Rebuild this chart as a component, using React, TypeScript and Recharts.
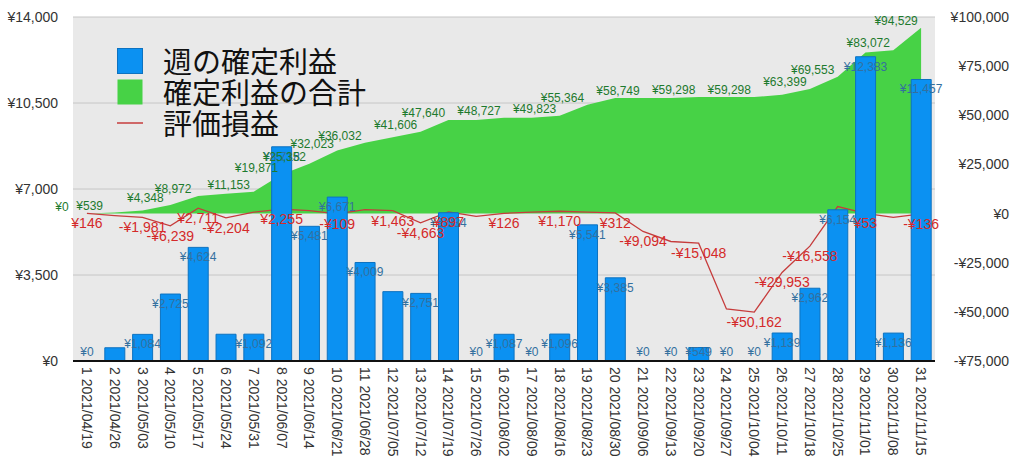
import {
  ComposedChart,
  Bar,
  Area,
  Line,
  XAxis,
  YAxis,
  CartesianGrid,
  Legend,
  LabelList,
} from "recharts";

const weekLabels = [
  "1 2021/04/19", "2 2021/04/26", "3 2021/05/03", "4 2021/05/10", "5 2021/05/17",
  "6 2021/05/24", "7 2021/05/31", "8 2021/06/07", "9 2021/06/14", "10 2021/06/21",
  "11 2021/06/28", "12 2021/07/05", "13 2021/07/12", "14 2021/07/19", "15 2021/07/26",
  "16 2021/08/02", "17 2021/08/09", "18 2021/08/16", "19 2021/08/23", "20 2021/08/30",
  "21 2021/09/06", "22 2021/09/13", "23 2021/09/20", "24 2021/09/27", "25 2021/10/04",
  "26 2021/10/11", "27 2021/10/18", "28 2021/10/25", "29 2021/11/01", "30 2021/11/08",
  "31 2021/11/15",
];

// 週の確定利益
const weeklyProfit = [
  0, 539, 1084, 2725, 4624, 1089, 1092, 8718, 5481, 6671, 4009, 2823, 2751, 6034, 0,
  1087, 0, 1096, 5541, 3385, 0, 0, 549, 0, 0, 1139, 2962, 6154, 12383, 1136, 11457,
];

// 確定利益の合計
const totalProfit = [
  0, 539, 1623, 4348, 8972, 10061, 11153, 19871, 25352, 32023, 36032, 38855, 41606,
  47640, 47640, 48727, 48727, 49823, 55364, 58749, 58749, 58749, 59298, 59298, 59298,
  60437, 63399, 69553, 81936, 83072, 94529,
];

// 評価損益
const unrealized = [
  146, -1000, -1981, -6239, 2711, -2204, 700, 2255, 1500, -109, 2000, 1463, -4663, 897,
  -1400, 126, 700, 1170, 700, 312, -9094, -14200, -15048, -48500, -50162, -29953,
  -16558, 3560, 53, -1900, -136,
];

const leftTicks = [0, 3500, 7000, 10500, 14000];
const rightTicks = [-75000, -50000, -25000, 0, 25000, 50000, 75000, 100000];

// weeks whose value label is printed in the reference
const blueLabelHidden = [1, 5, 11];
const greenLabelShown = [0, 1, 3, 4, 6, 7, 8, 9, 10, 12, 13, 15, 17, 18, 20, 22, 24, 26, 27, 29, 30];
const redLabelShown = [0, 2, 3, 4, 5, 7, 9, 11, 12, 13, 15, 17, 19, 20, 22, 24, 25, 26, 28, 30];

const legendOrder = ["週の確定利益", "確定利益の合計", "評価損益"];

const BLUE = "#0b91f2";
const GREEN = "#47d246";
const RED = "#c63c3c";
const NUM_FONT = "'Liberation Sans', Arial, sans-serif";
const CHART_H = 472;
const TOP = 17;
const X_AXIS_H = 111;

const rows = weekLabels.map((label, i) => ({
  label,
  weekly: weeklyProfit[i],
  total: totalProfit[i],
  unrealized: unrealized[i],
}));

const yen = (v: number) => (v < 0 ? "-¥" : "¥") + Math.abs(v).toLocaleString("en-US");

function pos(props: any) {
  const vb = props.viewBox || {};
  return { x: props.x ?? vb.x, y: props.y ?? vb.y };
}

function XTick({ x, y, payload }: any) {
  return (
    <text
      x={x}
      y={y}
      transform={`rotate(90 ${x} ${y})`}
      textAnchor="start"
      dominantBaseline="central"
      fontSize={14}
      fontFamily={NUM_FONT}
      fill="#333"
    >
      {payload.value}
    </text>
  );
}

function RightTick({ x, y, payload }: any) {
  return (
    <text
      x={x + 74}
      y={y}
      textAnchor="end"
      dominantBaseline="central"
      fontSize={14}
      fontFamily={NUM_FONT}
      fill="#333"
    >
      {yen(payload.value)}
    </text>
  );
}

// label for the weekly bars, drawn from an invisible line through the bar tops
function BarLabel(props: any) {
  if (blueLabelHidden.includes(props.index)) return null;
  const { x, y } = pos(props);
  const pvb = props.parentViewBox;
  const bottom = pvb && pvb.height ? pvb.y + pvb.height : CHART_H - X_AXIS_H;
  const cy = Math.min(y + 10, bottom - 9);
  return (
    <text
      x={x}
      y={cy}
      textAnchor="middle"
      dominantBaseline="central"
      fontSize={12}
      fontFamily={NUM_FONT}
      fill="#33709f"
    >
      {yen(props.value)}
    </text>
  );
}

function GreenLabel(props: any) {
  if (!greenLabelShown.includes(props.index)) return null;
  const { x, y } = pos(props);
  return (
    <text
      x={x - 25}
      y={y - 7}
      textAnchor="middle"
      dominantBaseline="central"
      fontSize={12}
      fontFamily={NUM_FONT}
      fill="#1d7a2d"
    >
      {yen(props.value)}
    </text>
  );
}

function RedLabel(props: any) {
  if (!redLabelShown.includes(props.index)) return null;
  const { x, y } = pos(props);
  return (
    <text
      x={x}
      y={y + 10}
      textAnchor="middle"
      dominantBaseline="central"
      fontSize={14}
      fontFamily={NUM_FONT}
      fill="#d42a2a"
    >
      {yen(props.value)}
    </text>
  );
}

const legendStyle: Record<string, { kind: "square" | "line"; color: string; edge: string }> = {
  週の確定利益: { kind: "square", color: BLUE, edge: "#0d72c0" },
  確定利益の合計: { kind: "square", color: GREEN, edge: "none" },
  評価損益: { kind: "line", color: RED, edge: "none" },
};

function LegendBox({ payload }: any) {
  const names = legendOrder.filter((n) => (payload || []).some((p: any) => p.value === n));
  return (
    <div style={{ fontFamily: "'Noto Sans CJK JP', sans-serif", fontSize: 29, color: "#111" }}>
      {names.map((name) => {
        const s = legendStyle[name];
        return (
          <div key={name} style={{ display: "flex", alignItems: "center", height: 31 }}>
            <svg width={26} height={26} style={{ marginRight: 20 }}>
              {s.kind === "square" ? (
                <rect x={0.5} y={0.5} width={25} height={25} fill={s.color} stroke={s.edge} />
              ) : (
                <line x1={0} x2={26} y1={13} y2={13} stroke={s.color} strokeWidth={1.5} />
              )}
            </svg>
            <span style={{ lineHeight: "31px" }}>{name}</span>
          </div>
        );
      })}
    </div>
  );
}

export default function App() {
  return (
    <div style={{ position: "absolute", left: 0, top: 0, background: "#fff" }}>
      <ComposedChart
        width={1024}
        height={CHART_H}
        data={rows}
        margin={{ top: TOP, right: 0, bottom: 0, left: 0 }}
      >
        <CartesianGrid
          yAxisId="left"
          vertical={false}
          stroke="#c6c6c6"
          fill="#e9e9e9"
          fillOpacity={1}
        />
        <XAxis
          dataKey="label"
          interval={0}
          height={X_AXIS_H}
          tickSize={0}
          tickMargin={6}
          tickLine={false}
          axisLine={{ stroke: "#111", strokeWidth: 2 }}
          tick={<XTick />}
        />
        <YAxis
          yAxisId="left"
          orientation="left"
          width={73}
          domain={[0, 14000]}
          ticks={leftTicks}
          tickSize={0}
          tickMargin={15}
          axisLine={false}
          tickLine={false}
          tickFormatter={yen}
          tick={{ fontSize: 14, fontFamily: NUM_FONT, fill: "#333" }}
        />
        <YAxis
          yAxisId="right"
          orientation="right"
          width={89}
          domain={[-75000, 100000]}
          ticks={rightTicks}
          tickSize={0}
          tickMargin={0}
          axisLine={false}
          tickLine={false}
          tick={<RightTick />}
        />
        <Area
          yAxisId="right"
          name="確定利益の合計"
          dataKey="total"
          type="linear"
          baseValue={0}
          fill={GREEN}
          fillOpacity={1}
          stroke="none"
          legendType="square"
          zIndex={100}
          isAnimationActive={false}
        />
        <Line
          yAxisId="right"
          name="評価損益"
          dataKey="unrealized"
          type="linear"
          stroke={RED}
          strokeWidth={1.3}
          dot={false}
          legendType="plainline"
          zIndex={150}
          isAnimationActive={false}
        />
        <Bar
          yAxisId="left"
          name="週の確定利益"
          dataKey="weekly"
          barSize={20}
          fill={BLUE}
          stroke="#0d72c0"
          strokeWidth={1}
          legendType="square"
          zIndex={300}
          isAnimationActive={false}
        />
        <Line
          yAxisId="left"
          dataKey="weekly"
          stroke="none"
          dot={false}
          activeDot={false}
          legendType="none"
          zIndex={2000}
          isAnimationActive={false}
        >
          <LabelList dataKey="weekly" content={<BarLabel />} />
        </Line>
        <Line
          yAxisId="right"
          dataKey="total"
          stroke="none"
          dot={false}
          activeDot={false}
          legendType="none"
          zIndex={2000}
          isAnimationActive={false}
        >
          <LabelList dataKey="total" content={<GreenLabel />} />
        </Line>
        <Line
          yAxisId="right"
          dataKey="unrealized"
          stroke="none"
          dot={false}
          activeDot={false}
          legendType="none"
          zIndex={2000}
          isAnimationActive={false}
        >
          <LabelList dataKey="unrealized" content={<RedLabel />} />
        </Line>
        <Legend
          layout="vertical"
          align="center"
          verticalAlign="middle"
          content={<LegendBox />}
          wrapperStyle={{ position: "absolute", left: 117, top: 45, width: 320, height: 100 }}
        />
      </ComposedChart>
    </div>
  );
}
